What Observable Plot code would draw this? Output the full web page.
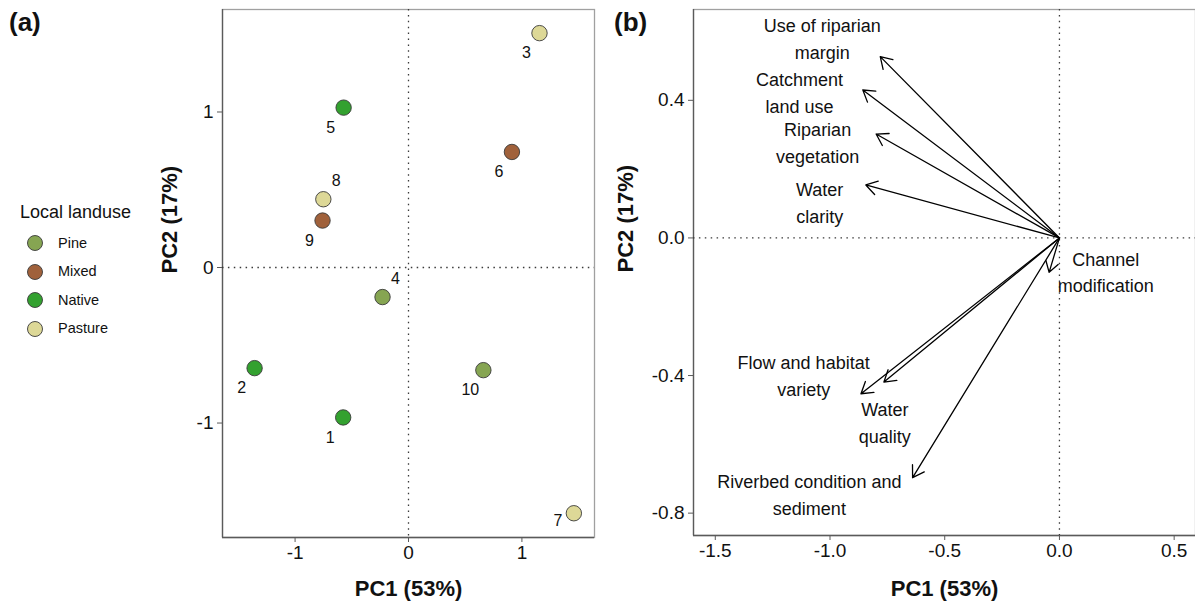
<!DOCTYPE html>
<html>
<head>
<meta charset="utf-8">
<script src="https://cdn.jsdelivr.net/npm/d3@7"></script>
<script src="https://cdn.jsdelivr.net/npm/@observablehq/plot@0.6"></script>
<style>
  html, body { margin: 0; padding: 0; background: #fff; }
  #root { position: relative; width: 1195px; height: 604px; overflow: hidden;
          font-family: "Liberation Sans", Arial, sans-serif; color: #111; }
  .abs { position: absolute; }
  .letter { font-weight: bold; font-size: 26px; line-height: 1; }
  .legtitle { font-size: 18px; line-height: 1; }
  .legitem { font-size: 14.5px; line-height: 1; display: flex; align-items: center; }
</style>
</head>
<body>
<div id="root"></div>
<script>
// ---------- Data: panel (a) site scores ----------
const sites    = [1, 2, 3, 4, 5, 6, 7, 8, 9, 10];
const sitePC1  = [-0.576, -1.357, 1.155, -0.229, -0.572, 0.912, 1.458, -0.751, -0.758, 0.660];
const sitePC2  = [-0.964, -0.647, 1.507, -0.190, 1.028, 0.743, -1.580, 0.439, 0.302, -0.660];
const siteLand = ["Native", "Native", "Pasture", "Pine", "Native", "Mixed", "Pasture", "Pasture", "Mixed", "Pine"];

const landCategories = ["Pine", "Mixed", "Native", "Pasture"];
const landColors     = ["#86a552", "#a0613b", "#33a12f", "#ddd897"];

// ---------- Data: panel (b) variable loadings ----------
const variables = [
  "Use of riparian\nmargin",
  "Catchment\nland use",
  "Riparian\nvegetation",
  "Water\nclarity",
  "Channel\nmodification",
  "Flow and habitat\nvariety",
  "Water\nquality",
  "Riverbed condition and\nsediment"
];
const loadPC1  = [-0.781, -0.857, -0.799, -0.844, -0.045, -0.865, -0.765, -0.640];
const loadPC2  = [ 0.527,  0.430,  0.302,  0.154, -0.100, -0.453, -0.419, -0.697];
const labelPC1 = [-1.034, -1.133, -1.054, -1.045,  0.202, -1.115, -0.761, -1.090];
const labelPC2 = [ 0.575,  0.418,  0.273,  0.099, -0.103, -0.404, -0.541, -0.750];

const ticksA  = [-1, 0, 1];
const ticksBx = [-1.5, -1.0, -0.5, 0.0, 0.5];
const ticksBy = [-0.8, -0.4, 0.0, 0.4];

const xTitle = "PC1 (53%)";
const yTitle = "PC2 (17%)";
const legendTitle = "Local landuse";

// ---------- Build tables ----------
const siteData = sites.map((s, i) => ({site: s, pc1: sitePC1[i], pc2: sitePC2[i], land: siteLand[i]}));
const loadData = variables.map((v, i) => ({name: v, pc1: loadPC1[i], pc2: loadPC2[i], lx: labelPC1[i], ly: labelPC2[i]}));

const FONT = "'Liberation Sans', Arial, sans-serif";
const root = document.getElementById("root");

const frameStroke = "#a0a0a0";
const axisStroke = "#5a5a5a";
const dotted = {stroke: "#3a3a3a", strokeDasharray: "1.5 4.4", strokeWidth: 1.3};

// label placement for site numbers (relative to the point)
const aboveRight = new Set([4, 8]);
const leftOnly = new Set([7]);

// ---------- Panel (a) ----------
const A = {left: 130, width: 470, mL: 92, mR: 6, mT: 9, mB: 67};
const plotA = Plot.plot({
  width: A.width, height: 604,
  marginLeft: A.mL, marginRight: A.mR, marginTop: A.mT, marginBottom: A.mB,
  style: {fontFamily: FONT, background: "transparent", color: "#111", overflow: "visible"},
  x: {domain: [-1.64, 1.64]},
  y: {domain: [-1.736, 1.659]},
  color: {domain: landCategories, range: landColors},
  marks: [
    Plot.frame({stroke: frameStroke, strokeWidth: 1.3}),
    Plot.ruleX([-1.64], {stroke: axisStroke, strokeWidth: 1.3}),
    Plot.ruleY([-1.736], {stroke: axisStroke, strokeWidth: 1.3}),
    Plot.ruleX([0], dotted),
    Plot.ruleY([0], dotted),
    Plot.axisX({ticks: ticksA, tickSize: 5, tickPadding: 3, fontSize: 19, label: null, stroke: axisStroke, tickFormat: d => String(d)}),
    Plot.axisY({ticks: ticksA, tickSize: 5, tickPadding: 4, fontSize: 19, label: null, stroke: axisStroke, tickFormat: d => String(d)}),
    Plot.dot(siteData, {x: "pc1", y: "pc2", fill: "land", r: 7.7, stroke: "#3a3a3a", strokeWidth: 0.9}),
    Plot.text(siteData.filter(d => !aboveRight.has(d.site) && !leftOnly.has(d.site)),
      {x: "pc1", y: "pc2", text: d => String(d.site), dx: -13, dy: 20, fontSize: 16, fill: "#111"}),
    Plot.text(siteData.filter(d => aboveRight.has(d.site)),
      {x: "pc1", y: "pc2", text: d => String(d.site), dx: 13, dy: -18, fontSize: 16, fill: "#111"}),
    Plot.text(siteData.filter(d => leftOnly.has(d.site)),
      {x: "pc1", y: "pc2", text: d => String(d.site), dx: -16, dy: 8, fontSize: 16, fill: "#111"}),
    Plot.text([xTitle], {frameAnchor: "bottom", dy: 51, text: d => d, fontSize: 22, fontWeight: "bold", lineAnchor: "middle", fill: "#111"}),
    Plot.text([yTitle], {frameAnchor: "left", dx: 39 - A.mL, rotate: -90, text: d => d, fontSize: 22, fontWeight: "bold", lineAnchor: "middle", fill: "#111"})
  ]
});
plotA.classList.add("abs");
plotA.style.left = A.left + "px";
plotA.style.top = "0px";
root.appendChild(plotA);

// ---------- Panel (b) ----------
const B = {left: 600, width: 595, mL: 93, mR: 0, mT: 9, mB: 69};
const plotB = Plot.plot({
  width: B.width, height: 604,
  marginLeft: B.mL, marginRight: B.mR, marginTop: B.mT, marginBottom: B.mB,
  style: {fontFamily: FONT, background: "transparent", color: "#111", overflow: "visible"},
  x: {domain: [-1.595, 0.593]},
  y: {domain: [-0.865, 0.664]},
  marks: [
    Plot.frame({stroke: frameStroke, strokeWidth: 1.3}),
    Plot.ruleX([-1.595], {stroke: axisStroke, strokeWidth: 1.3}),
    Plot.ruleY([-0.865], {stroke: axisStroke, strokeWidth: 1.3}),
    Plot.ruleX([0], dotted),
    Plot.ruleY([0], dotted),
    Plot.axisX({ticks: ticksBx, tickSize: 5, tickPadding: 3, fontSize: 19, label: null, stroke: axisStroke, tickFormat: d => d.toFixed(1)}),
    Plot.axisY({ticks: ticksBy, tickSize: 5, tickPadding: 4, fontSize: 19, label: null, stroke: axisStroke, tickFormat: d => d.toFixed(1)}),
    Plot.arrow(loadData, {x1: 0, y1: 0, x2: "pc1", y2: "pc2", stroke: "#000", strokeWidth: 1.3, headLength: 15, headAngle: 64}),
    Plot.text(loadData, {x: "lx", y: "ly", text: "name", dy: -3, fontSize: 18, lineHeight: 1.48, lineAnchor: "middle", textAnchor: "middle", fill: "#111"}),
    Plot.text([xTitle], {frameAnchor: "bottom", dy: 53, text: d => d, fontSize: 22, fontWeight: "bold", lineAnchor: "middle", fill: "#111"}),
    Plot.text([yTitle], {frameAnchor: "left", dx: 25 - B.mL, rotate: -90, text: d => d, fontSize: 22, fontWeight: "bold", lineAnchor: "middle", fill: "#111"})
  ]
});
plotB.classList.add("abs");
plotB.style.left = B.left + "px";
plotB.style.top = "0px";
root.appendChild(plotB);

// ---------- Panel letters ----------
function addDiv(cls, text, x, y) {
  const d = document.createElement("div");
  d.className = "abs " + cls;
  d.textContent = text;
  d.style.left = x + "px";
  d.style.top = y + "px";
  root.appendChild(d);
  return d;
}
addDiv("letter", "(a)", 9, 9);
addDiv("letter", "(b)", 614, 9);

// ---------- Legend ----------
addDiv("legtitle", legendTitle, 20, 203);
landCategories.forEach((c, i) => {
  const item = document.createElement("div");
  item.className = "abs legitem";
  item.style.left = "26px";
  item.style.top = (243 + i * 28.5 - 9) + "px";
  item.style.height = "18px";
  const sw = document.createElementNS("http://www.w3.org/2000/svg", "svg");
  sw.setAttribute("width", "18"); sw.setAttribute("height", "18");
  const circ = document.createElementNS("http://www.w3.org/2000/svg", "circle");
  circ.setAttribute("cx", "9"); circ.setAttribute("cy", "9"); circ.setAttribute("r", "7.5");
  circ.setAttribute("fill", landColors[i]); circ.setAttribute("stroke", "#3a3a3a"); circ.setAttribute("stroke-width", "0.9");
  sw.appendChild(circ);
  item.appendChild(sw);
  const lab = document.createElement("span");
  lab.textContent = c;
  lab.style.marginLeft = "14px";
  item.appendChild(lab);
  root.appendChild(item);
});
</script>
</body>
</html>
